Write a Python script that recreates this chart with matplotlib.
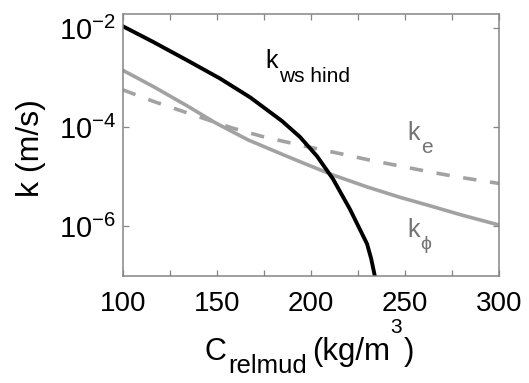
import numpy as np
import matplotlib
matplotlib.use("Agg")
import matplotlib.pyplot as plt
from matplotlib.ticker import FixedLocator, NullLocator, FuncFormatter

plt.rcParams['font.family'] = ['Liberation Sans', 'DejaVu Sans']
plt.rcParams['mathtext.fontset'] = 'custom'
plt.rcParams['mathtext.rm'] = 'Liberation Sans'
plt.rcParams['mathtext.it'] = 'Liberation Sans'
plt.rcParams['mathtext.default'] = 'regular'

# Data (C in kg/m^3, log10 k in m/s)
c_hind = [100.2, 116.0, 134.0, 151.6, 167.6, 184.6, 194.1, 203.2, 211.7, 220.7, 229.8, 232.0, 234.0, 234.6]
logk_hind = [-1.97, -2.28, -2.65, -3.02, -3.40, -3.88, -4.20, -4.59, -5.05, -5.66, -6.36, -6.66, -7.02, -7.2]

c_phi = [100.2, 116.0, 134.0, 148.9, 166.5, 184.6, 194.1, 211.7, 229.8, 247.3, 262.2, 280.3, 300.0]
logk_phi = [-2.86, -3.18, -3.57, -3.91, -4.26, -4.55, -4.70, -4.97, -5.21, -5.42, -5.58, -5.78, -5.98]

c_e = [100.0, 116.0, 131.5, 158.1, 174.0, 190.0, 203.2, 217.0, 231.4, 246.3, 262.2, 276.6, 291.5, 300.0]
logk_e = [-3.25, -3.48, -3.68, -4.02, -4.19, -4.33, -4.44, -4.55, -4.67, -4.78, -4.90, -5.00, -5.09, -5.14]

W, H = 529, 383
fig = plt.figure(figsize=(W / 100, H / 100), dpi=100)
L, R, T, B = 123, 499, 14, 276
ax = fig.add_axes([L / W, 1 - B / H, (R - L) / W, (B - T) / H])

gray = '#a2a2a2'
ax.plot(c_e, 10 ** np.array(logk_e), color=gray, lw=2.6, ls=(0, (3.7, 3.8)),
        dash_capstyle='butt')
ax.plot(c_phi, 10 ** np.array(logk_phi), color=gray, lw=2.6)
ax.plot(c_hind, 10 ** np.array(logk_hind), color='black', lw=2.8)

ax.set_yscale('log')
ax.set_xlim(100, 300)
ax.set_ylim(10 ** -7.01, 10 ** -1.717)

ax.xaxis.set_major_locator(FixedLocator(np.arange(100, 301, 25)))
ax.xaxis.set_major_formatter(FuncFormatter(lambda v, p: f'{int(v)}' if v % 50 == 0 else ''))
ax.yaxis.set_major_locator(FixedLocator([1e-6, 1e-4, 1e-2]))
ax.yaxis.set_minor_locator(NullLocator())
ax.yaxis.set_major_formatter(FuncFormatter(lambda v, p: r'$10^{%d}$' % int(round(np.log10(v)))))

for s in ax.spines.values():
    s.set_color('#858585')
    s.set_linewidth(1.1)
ax.tick_params(which='both', direction='in', top=True, right=True, color='#858585',
               length=4, width=0.9, labelcolor='black')
ax.tick_params(axis='x', labelsize=20, pad=11)
ax.tick_params(axis='y', labelsize=21, pad=5)

ax.set_ylabel('k (m/s)', fontsize=23)
ax.yaxis.set_label_coords(-0.205, 0.487)

renderer = fig.canvas.get_renderer()


def ftext(x, y, s, size, color='black', **kw):
    t = fig.text(x / W, 1 - y / H, s, fontsize=size, color=color, ha='left', va='baseline', **kw)
    return t


def right_px(t):
    bb = t.get_window_extent(renderer)
    return bb.x1


# x label pieces (MATLAB-style sub/superscripts), chained left to right
t = ftext(205, 360, 'C', 22)
t = ftext(right_px(t) + 1, 373, 'relmud', 18.5)
t = ftext(right_px(t) + 5, 360, '(kg/m', 22.5)
t = ftext(right_px(t) + 0.5, 333, '3', 15)
t = ftext(right_px(t) + 2, 360, ')', 22.5)

# curve labels
ftext(265, 68, 'k', 18)
ftext(279, 82, 'ws hind', 15)
lab_gray = '#737373'
ftext(407, 140, 'k', 18, lab_gray)
ftext(421, 153, 'e', 15, lab_gray)
ftext(407, 237, 'k', 18, lab_gray)
ftext(420, 249, 'ϕ', 14, lab_gray)

fig.savefig('out.png', dpi=100)
